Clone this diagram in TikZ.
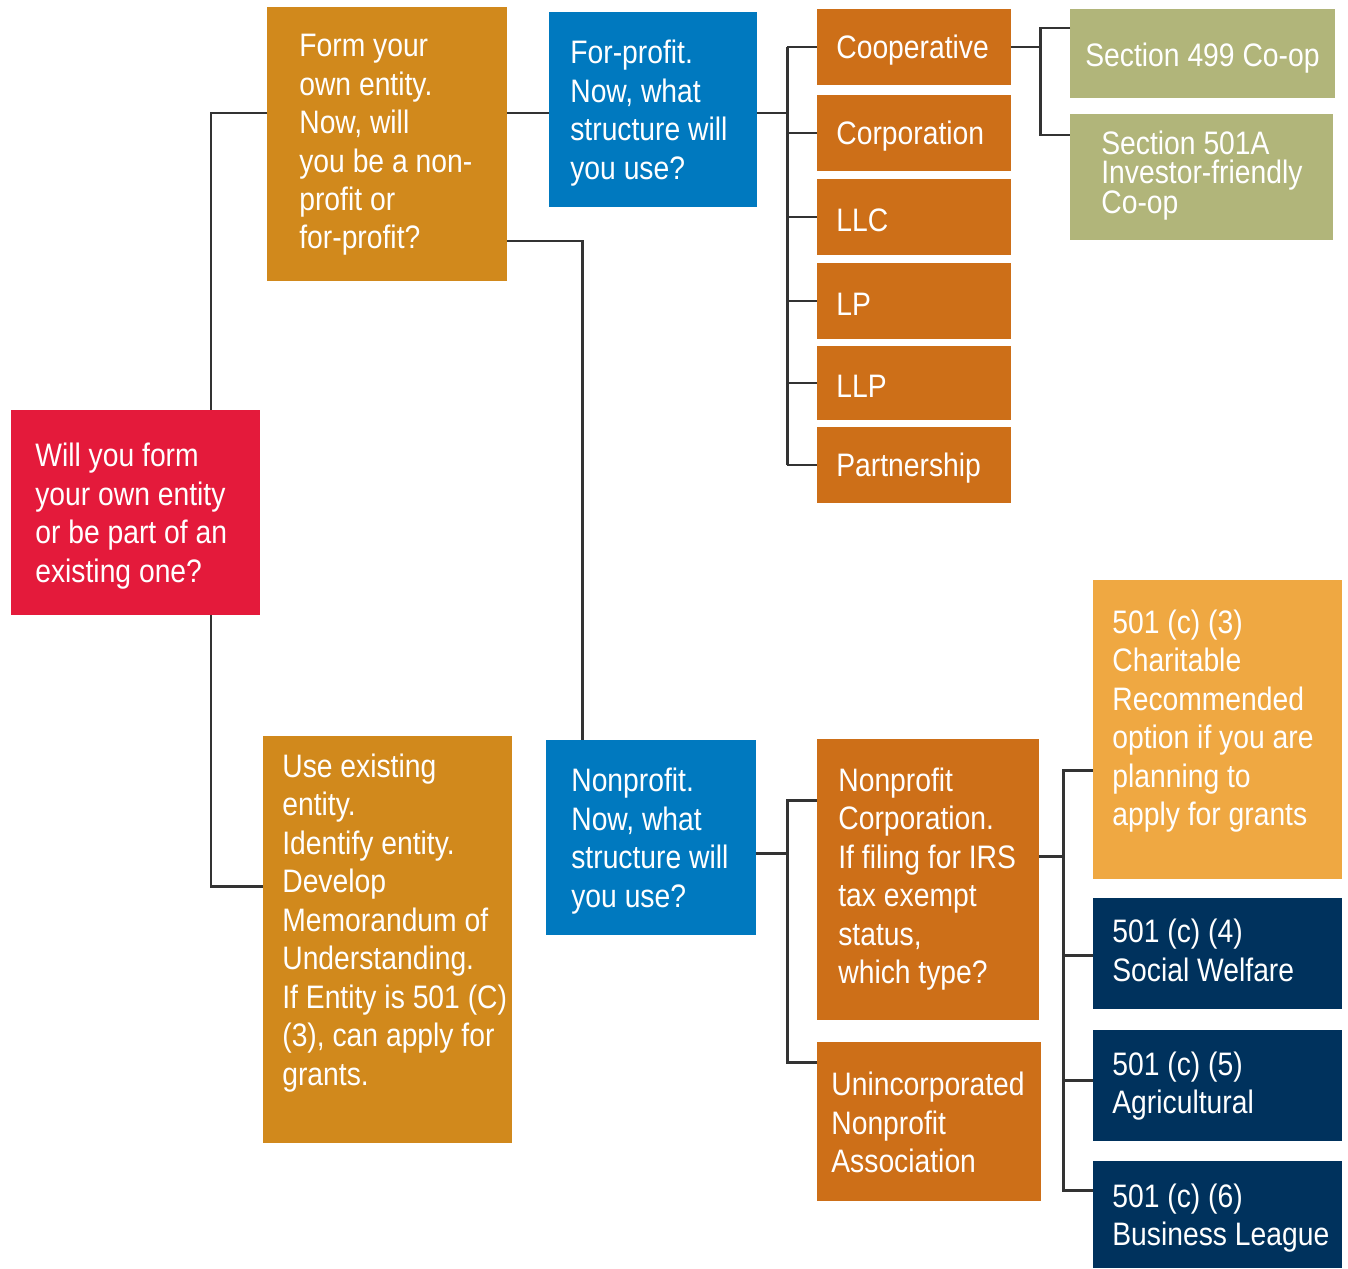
\documentclass[tikz,border=0pt]{standalone}
\usepackage{fontspec}
\newfontfamily\boxfont{Liberation Sans}[FakeStretch=0.87]
\usepackage{xcolor}
\usepackage{tikz}
\definecolor{rootred}{HTML}{E41A3B}
\definecolor{gold}{HTML}{D1891C}
\definecolor{stepblue}{HTML}{0079BF}
\definecolor{rust}{HTML}{CD6F18}
\definecolor{olive}{HTML}{B1B57A}
\definecolor{amber}{HTML}{EFA842}
\definecolor{navy}{HTML}{00325D}
\definecolor{linegray}{HTML}{333333}

\begin{document}
\begin{tikzpicture}[x=0.02cm, y=-0.02cm,
  box/.style={rectangle, anchor=north west, inner sep=0pt, outer sep=0pt},
  lbl/.style={anchor=west, align=left, text=white, inner sep=0pt, yshift=-0.07cm, font=\boxfont\fontsize{18.5}{21.9}\selectfont},
  conn/.style={draw=linegray, line width=1.7pt}]
\useasboundingbox (0,0) rectangle (1348,1268);
% first question
\node[box, fill=rootred, minimum width=4.98cm, minimum height=4.10cm,
  label={[lbl, xshift=0.48cm]west:{Will you form\\your own entity\\or be part of an\\existing one?}}] (root) at (11,410) {};
\node[box, fill=gold, minimum width=4.80cm, minimum height=5.48cm,
  label={[lbl, xshift=0.64cm, yshift=0.05cm]west:{Form your\\own entity.\\Now, will\\you be a non-\\profit or\\for-profit?}}] (form) at (267,7) {};
\node[box, fill=gold, minimum width=4.98cm, minimum height=8.14cm,
  label={[lbl, xshift=0.38cm, yshift=0.4cm]west:{Use existing\\entity.\\Identify entity.\\Develop\\Memorandum of\\Understanding.\\If Entity is 501 (C)\\(3), can apply for\\grants.}}] (use) at (263,736) {};
% for-profit side
\node[box, fill=stepblue, minimum width=4.16cm, minimum height=3.90cm,
  label={[lbl, xshift=0.42cm]west:{For-profit.\\Now, what\\structure will\\you use?}}] (forprofit) at (549,12) {};
\node[box, fill=rust, minimum width=3.88cm, minimum height=1.52cm,
  label={[lbl, xshift=0.38cm]west:Cooperative}] (coop) at (817,9) {};
\node[box, fill=rust, minimum width=3.88cm, minimum height=1.52cm,
  label={[lbl, xshift=0.38cm]west:Corporation}] (corp) at (817,95) {};
\node[box, fill=rust, minimum width=3.88cm, minimum height=1.52cm,
  label={[lbl, xshift=0.38cm]west:LLC}] (llc) at (817,179) {};
\node[box, fill=rust, minimum width=3.88cm, minimum height=1.52cm,
  label={[lbl, xshift=0.38cm]west:LP}] (lp) at (817,263) {};
\node[box, fill=rust, minimum width=3.88cm, minimum height=1.48cm,
  label={[lbl, xshift=0.38cm]west:LLP}] (llp) at (817,346) {};
\node[box, fill=rust, minimum width=3.88cm, minimum height=1.52cm,
  label={[lbl, xshift=0.38cm]west:Partnership}] (partner) at (817,427) {};
\node[box, fill=olive, minimum width=5.30cm, minimum height=1.78cm,
  label={[lbl, xshift=0.30cm, yshift=-0.03cm]west:Section 499 Co-op}] (sec499) at (1070,9) {};
\node[box, fill=olive, minimum width=5.26cm, minimum height=2.52cm,
  label={[lbl, xshift=0.62cm, yshift=0.1cm, font=\boxfont\fontsize{18.5}{16.8}\selectfont]west:{Section 501A\\Investor-friendly\\Co-op}}] (sec501) at (1070,114) {};
% nonprofit side
\node[box, fill=stepblue, minimum width=4.20cm, minimum height=3.90cm,
  label={[lbl, xshift=0.50cm]west:{Nonprofit.\\Now, what\\structure will\\you use?}}] (nonprofit) at (546,740) {};
\node[box, fill=rust, minimum width=4.44cm, minimum height=5.62cm,
  label={[lbl, xshift=0.42cm, yshift=0.08cm]west:{Nonprofit\\Corporation.\\If filing for IRS\\tax exempt\\status,\\which type?}}] (npc) at (817,739) {};
\node[box, fill=rust, minimum width=4.48cm, minimum height=3.18cm,
  label={[lbl, xshift=0.28cm, yshift=0.05cm]west:{Unincorporated\\Nonprofit\\Association}}] (uninc) at (817,1042) {};
\node[box, fill=amber, minimum width=4.98cm, minimum height=5.98cm,
  label={[lbl, xshift=0.38cm, yshift=0.24cm]west:{501 (c) (3)\\Charitable\\Recommended\\option if you are\\planning to\\apply for grants}}] (c3) at (1093,580) {};
\node[box, fill=navy, minimum width=4.98cm, minimum height=2.22cm,
  label={[lbl, xshift=0.38cm, yshift=0.13cm]west:{501 (c) (4)\\Social Welfare}}] (c4) at (1093,898) {};
\node[box, fill=navy, minimum width=4.98cm, minimum height=2.22cm,
  label={[lbl, xshift=0.38cm, yshift=0.06cm]west:{501 (c) (5)\\Agricultural}}] (c5) at (1093,1030) {};
\node[box, fill=navy, minimum width=4.98cm, minimum height=2.14cm,
  label={[lbl, xshift=0.38cm]west:{501 (c) (6)\\Business League}}] (c6) at (1093,1161) {};
% bus lines
\coordinate (trunk) at (211,0);
\coordinate (drop) at (582,0);
\coordinate (busfp) at (787,0);
\coordinate (buscoop) at (1040,0);
\coordinate (busnp) at (1063,0);
\draw[conn] (form.west |- 0,113) -| (root.north -| trunk);
\draw[conn] (root.south -| trunk) |- (use.west |- 0,886);
\draw[conn] (form.east |- 0,113) -- (forprofit.west |- 0,113);
\draw[conn] (form.east |- 0,241) -| (nonprofit.north -| drop);
\draw[conn] (forprofit.east |- 0,113) -- (busfp |- 0,113);
\draw[conn] (busfp |- coop.west) -- (busfp |- partner.west);
\foreach \n in {coop,corp,llc,lp,llp,partner}
  \draw[conn] (busfp |- \n.west) -- (\n.west);
\draw[conn] (coop.east) -- (buscoop |- coop.east);
\draw[conn] (sec499.west |- 0,28) -| (buscoop |- 0,135) -- (sec501.west |- 0,135);
\draw[conn] (nonprofit.east |- 0,853) -- (busfp |- 0,853);
\draw[conn] (npc.west |- 0,800) -| (busfp |- 0,1062) -- (uninc.west |- 0,1062);
\draw[conn] (npc.east |- 0,856) -- (busnp |- 0,856);
\draw[conn] (c3.west |- 0,770) -| (busnp |- 0,1190) -- (c6.west |- 0,1190);
\draw[conn] (busnp |- 0,955) -- (c4.west |- 0,955);
\draw[conn] (busnp |- 0,1080) -- (c5.west |- 0,1080);
\end{tikzpicture}
\end{document}
